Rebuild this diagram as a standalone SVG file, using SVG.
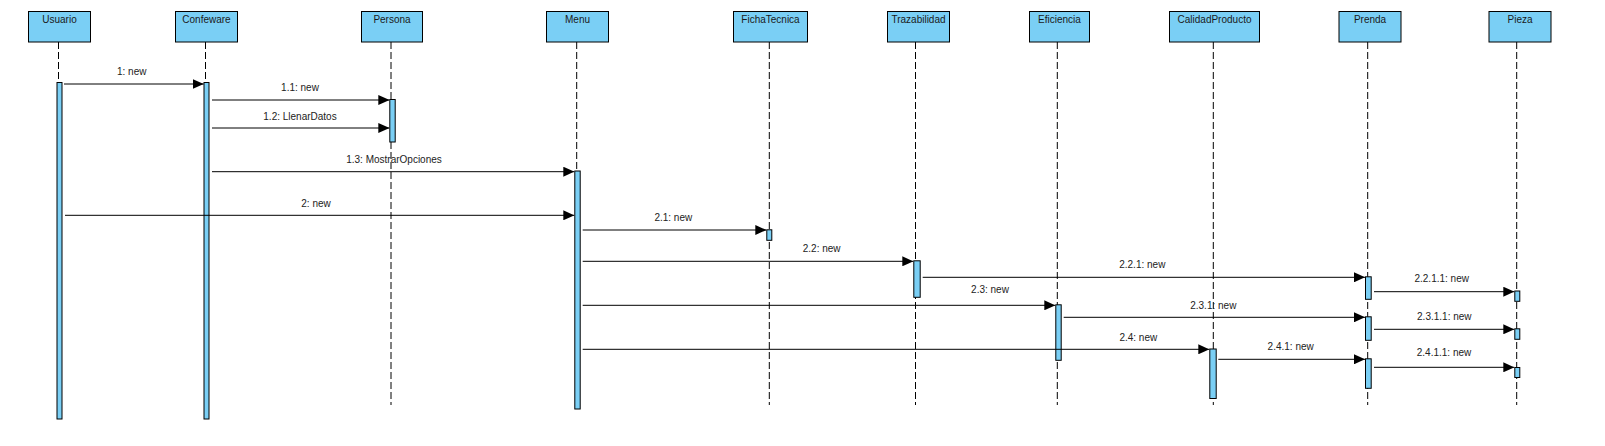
<svg xmlns="http://www.w3.org/2000/svg" width="1605" height="446" viewBox="0 0 1605 446">
<style>
.hd{fill:#7ACFF5;stroke:#000;stroke-width:1}
.ht{font-family:"Liberation Sans",Arial,sans-serif;font-size:10px;fill:#1a1a1a;text-anchor:middle}
.ll{stroke:#000;stroke-width:1;stroke-dasharray:7,3;fill:none}
.ac{fill:#7ACFF5;stroke:#000;stroke-width:1}
.msg{stroke:#000;stroke-width:1;fill:none;marker-end:url(#ah)}
.ml{font-family:"Liberation Sans",Arial,sans-serif;font-size:10px;fill:#222;text-anchor:middle}
</style>
<defs>
<marker id="ah" viewBox="0 0 11 10" refX="11" refY="5" markerWidth="11" markerHeight="10" markerUnits="userSpaceOnUse" orient="auto">
<path d="M0,0 L11,5 L0,10 z" fill="#000"/>
</marker>
</defs>
<rect width="1605" height="446" fill="#fff"/>

<g id="usuario">
<rect class="hd" x="28.5" y="11.5" width="62" height="30.5"/>
<text class="ht" x="59.5" y="22.5">Usuario</text>
<line class="ll" x1="58.5" y1="42" x2="58.5" y2="405"/>
<rect class="ac" x="57" y="82.5" width="5" height="336.5"/>
</g>
<g id="confeware">
<rect class="hd" x="175.5" y="11.5" width="62" height="30.5"/>
<text class="ht" x="206.5" y="22.5">Confeware</text>
<line class="ll" x1="205.5" y1="42" x2="205.5" y2="405"/>
<rect class="ac" x="204" y="82.5" width="5" height="336.5"/>
</g>
<g id="persona">
<rect class="hd" x="361.5" y="11.5" width="61" height="30.5"/>
<text class="ht" x="392" y="22.5">Persona</text>
<line class="ll" x1="391" y1="42" x2="391" y2="405"/>
<rect class="ac" x="389.8" y="99.5" width="5.4" height="42.5"/>
</g>
<g id="menu">
<rect class="hd" x="546.5" y="11.5" width="62" height="30.5"/>
<text class="ht" x="577.5" y="22.5">Menu</text>
<line class="ll" x1="576.7" y1="42" x2="576.7" y2="405"/>
<rect class="ac" x="574.8" y="171" width="5.4" height="238"/>
</g>
<g id="fichatecnica">
<rect class="hd" x="733.5" y="11.5" width="74" height="30.5"/>
<text class="ht" x="770.5" y="22.5">FichaTecnica</text>
<line class="ll" x1="769.3" y1="42" x2="769.3" y2="405"/>
<rect class="ac" x="766.8" y="229.8" width="5" height="10.5"/>
</g>
<g id="trazabilidad">
<rect class="hd" x="887.5" y="11.5" width="62" height="30.5"/>
<text class="ht" x="918.5" y="22.5">Trazabilidad</text>
<line class="ll" x1="915.5" y1="42" x2="915.5" y2="405"/>
<rect class="ac" x="913.8" y="260.8" width="6.4" height="36.5"/>
</g>
<g id="eficiencia">
<rect class="hd" x="1029.5" y="11.5" width="60" height="30.5"/>
<text class="ht" x="1059.5" y="22.5">Eficiencia</text>
<line class="ll" x1="1057.3" y1="42" x2="1057.3" y2="405"/>
<rect class="ac" x="1055.8" y="304.8" width="5.4" height="55.5"/>
</g>
<g id="calidadproducto">
<rect class="hd" x="1169.5" y="11.5" width="90" height="30.5"/>
<text class="ht" x="1214.5" y="22.5">CalidadProducto</text>
<line class="ll" x1="1213.3" y1="42" x2="1213.3" y2="405"/>
<rect class="ac" x="1209.8" y="349" width="6.4" height="49.5"/>
</g>
<g id="prenda">
<rect class="hd" x="1339" y="11.5" width="62" height="30.5"/>
<text class="ht" x="1370" y="22.5">Prenda</text>
<line class="ll" x1="1367.7" y1="42" x2="1367.7" y2="405"/>
<rect class="ac" x="1365.5" y="276.8" width="5.7" height="22.5"/>
<rect class="ac" x="1365.5" y="316.8" width="5.7" height="23.5"/>
<rect class="ac" x="1365.5" y="358.8" width="5.7" height="29.5"/>
</g>
<g id="pieza">
<rect class="hd" x="1489" y="11.5" width="62" height="30.5"/>
<text class="ht" x="1520" y="22.5">Pieza</text>
<line class="ll" x1="1516.7" y1="42" x2="1516.7" y2="405"/>
<rect class="ac" x="1514.8" y="291" width="5" height="10.3"/>
<rect class="ac" x="1514.8" y="328.8" width="5" height="10.5"/>
<rect class="ac" x="1514.8" y="367.5" width="5" height="10"/>
</g>

<g id="connectors">
<line class="msg" x1="64" y1="84" x2="203.7" y2="84"/>
<line class="msg" x1="212" y1="100" x2="389.3" y2="100"/>
<line class="msg" x1="212" y1="128" x2="389.3" y2="128"/>
<line class="msg" x1="212" y1="171.7" x2="574.3" y2="171.7"/>
<line class="msg" x1="65" y1="215.3" x2="574.3" y2="215.3"/>
<line class="msg" x1="582.7" y1="230" x2="766.3" y2="230"/>
<line class="msg" x1="582.7" y1="261.3" x2="913.3" y2="261.3"/>
<line class="msg" x1="922.7" y1="277.3" x2="1365" y2="277.3"/>
<line class="msg" x1="1374" y1="291.7" x2="1514.3" y2="291.7"/>
<line class="msg" x1="582.7" y1="305.3" x2="1055.3" y2="305.3"/>
<line class="msg" x1="1063.7" y1="317.3" x2="1365" y2="317.3"/>
<line class="msg" x1="1374" y1="329.3" x2="1514.3" y2="329.3"/>
<line class="msg" x1="582.7" y1="349.3" x2="1209.3" y2="349.3"/>
<line class="msg" x1="1218.3" y1="359.3" x2="1365" y2="359.3"/>
<line class="msg" x1="1374" y1="367.3" x2="1514.3" y2="367.3"/>
</g>
<g id="labels">
<text class="ml" x="131.7" y="75">1: new</text>
<text class="ml" x="300" y="91">1.1: new</text>
<text class="ml" x="300" y="119.5">1.2: LlenarDatos</text>
<text class="ml" x="394" y="163">1.3: MostrarOpciones</text>
<text class="ml" x="316" y="206.5">2: new</text>
<text class="ml" x="673.3" y="221">2.1: new</text>
<text class="ml" x="821.7" y="252">2.2: new</text>
<text class="ml" x="1142.3" y="267.5">2.2.1: new</text>
<text class="ml" x="1441.7" y="282.3">2.2.1.1: new</text>
<text class="ml" x="990" y="293.3">2.3: new</text>
<text class="ml" x="1213.3" y="309.3">2.3.1: new</text>
<text class="ml" x="1444.3" y="320.3">2.3.1.1: new</text>
<text class="ml" x="1138.3" y="341.3">2.4: new</text>
<text class="ml" x="1290.7" y="349.6">2.4.1: new</text>
<text class="ml" x="1444" y="356">2.4.1.1: new</text>
</g>
</svg>
